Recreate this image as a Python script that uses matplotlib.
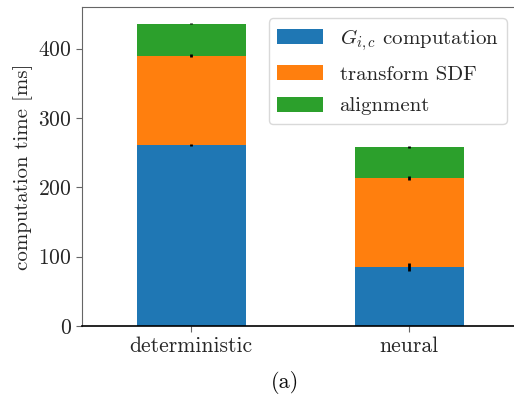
import numpy as np
import matplotlib
matplotlib.use('Agg')
import matplotlib.pyplot as plt

plt.rcParams['font.family'] = 'cmr10'
plt.rcParams['mathtext.fontset'] = 'cm'
plt.rcParams['axes.unicode_minus'] = False
plt.rcParams['axes.formatter.use_mathtext'] = True

methods = ["deterministic", "neural"]
stages = [r"$G_{i,c}$ computation", "transform SDF", "alignment"]
# mean time per stage [ms], one list per stage
g_comp = [261, 85]
transform = [129, 129]
align = [46, 44]
# standard deviations
g_comp_std = [1, 6]
transform_std = [2, 3]
align_std = [1, 1]
colors = ['#1f77b4', '#ff7f0e', '#2ca02c']

fig = plt.figure(figsize=(5.14, 3.96), dpi=100)
ax = fig.add_axes([82 / 514, 70 / 396, 436 / 514, 319 / 396])

x = np.arange(len(methods))
bottom = np.zeros(len(methods))
for vals, err, lab, c in zip([g_comp, transform, align],
                             [g_comp_std, transform_std, align_std],
                             stages, colors):
    ax.bar(x, vals, 0.5, bottom=bottom, yerr=err, color=c, label=lab,
           error_kw=dict(ecolor='black', elinewidth=2, capsize=0))
    bottom += np.array(vals)

ax.set_xlim(-0.5, 1.5)
ax.set_ylim(0, 460)
ax.set_xticks(x)
ax.set_xticklabels(methods)
ax.set_yticks([0, 100, 200, 300, 400])
ax.set_ylabel("computation time [ms]", fontsize=15, color='0.15')
ax.tick_params(labelsize=15.5, labelcolor='0.15', color='0.4', length=4)

for s in ['left', 'top', 'right']:
    ax.spines[s].set_color('0.4')
ax.spines['bottom'].set_color('black')
ax.spines['bottom'].set_linewidth(1.2)

leg = ax.legend(loc='upper right', fontsize=15, handlelength=2.2,
                handleheight=0.75, framealpha=1, edgecolor='0.85',
                labelspacing=0.6, borderaxespad=0.55)
for t in leg.get_texts():
    t.set_color('0.15')

fig.text(285 / 514, 1 - 383 / 396, "(a)", fontsize=16, ha='center', va='center',
         color='0.05')

fig.savefig("out.png", dpi=100)
